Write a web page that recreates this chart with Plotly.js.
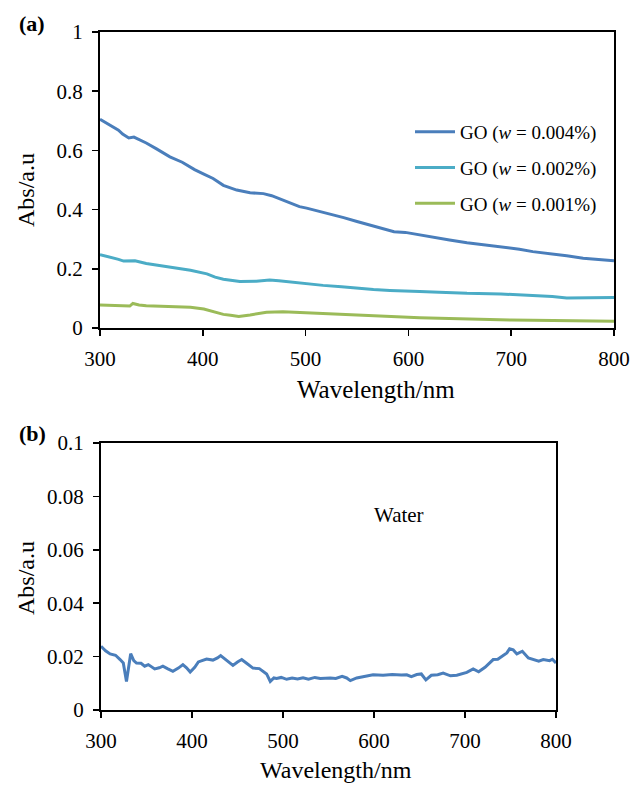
<!DOCTYPE html>
<html>
<head>
<meta charset="utf-8">
<script src="https://cdn.plot.ly/plotly-3.0.1.min.js"></script>
<style>html,body{margin:0;padding:0;background:#fff;}</style>
</head>
<body>
<div id="chart" style="width:641px;height:785px;"></div>
<script>
// ---- Data ----
const wlGO004 = [300,305,310,318,322,328,333,336,345,355,368,380,392,401,410,420,433,446,459,467,476,485,494,501,509,517,527,537,550,563,576,586,597,612,624,640,657,672,689,708,721,737,754,770,786,800];
const absGO004 = [0.705,0.695,0.685,0.668,0.655,0.642,0.645,0.640,0.625,0.605,0.578,0.560,0.535,0.520,0.505,0.482,0.466,0.457,0.454,0.447,0.435,0.421,0.410,0.405,0.398,0.390,0.383,0.373,0.360,0.347,0.333,0.325,0.323,0.314,0.305,0.297,0.288,0.282,0.275,0.266,0.258,0.252,0.244,0.236,0.232,0.227];

const wlGO002 = [300,310,318,323,334,345,355,370,388,404,412,420,436,452,465,474,482,491,505,517,535,550,566,582,600,611,630,657,690,721,740,754,770,785,800];
const absGO002 = [0.248,0.240,0.232,0.226,0.227,0.218,0.213,0.205,0.195,0.183,0.172,0.165,0.157,0.158,0.162,0.160,0.157,0.152,0.148,0.144,0.139,0.134,0.130,0.127,0.126,0.123,0.121,0.117,0.115,0.110,0.106,0.101,0.102,0.101,0.103];

const wlGO001 = [300,315,329,332,338,345,365,388,401,408,414,420,427,435,446,455,462,478,490,501,525,550,575,592,611,630,657,690,700,721,740,760,780,800];
const absGO001 = [0.078,0.077,0.074,0.083,0.078,0.075,0.073,0.070,0.064,0.057,0.050,0.046,0.043,0.039,0.044,0.050,0.053,0.055,0.053,0.052,0.048,0.044,0.040,0.038,0.035,0.033,0.030,0.028,0.027,0.026,0.025,0.024,0.023,0.023];

const wlWater = [300,305,310,316,321,324.5,328,330,332.6,336,339,344,348,352,359,364,368,373,379,385,390,394,398,403,407,411,416,423,428,431.5,438,445,450,454.6,460,467,474,482,486,490,493,498,504,510,516,522,528,535,541,547,552,558,565,570,574,581,590,599,610,620,630,636,641,647,652,657,663,670,676,684,691,702,709,715,722,727,731,736,740,746,749,753,757,763,769.6,775,781,786,790,793,796,800];
const absWater = [0.0239,0.0222,0.0210,0.0205,0.0189,0.0176,0.0107,0.0150,0.0211,0.0185,0.0176,0.0175,0.0164,0.0170,0.0154,0.0158,0.0164,0.0155,0.0145,0.0157,0.0170,0.0158,0.0142,0.0160,0.0180,0.0185,0.0191,0.0187,0.0195,0.0204,0.0185,0.0167,0.0180,0.0189,0.0175,0.0157,0.0155,0.0135,0.0107,0.0120,0.0118,0.0122,0.0115,0.0120,0.0116,0.0121,0.0115,0.0122,0.0118,0.0120,0.0120,0.0118,0.0126,0.0120,0.0110,0.0120,0.0125,0.0132,0.0130,0.0133,0.0131,0.0132,0.0125,0.0133,0.0135,0.0113,0.0130,0.0132,0.0138,0.0128,0.0130,0.0141,0.0154,0.0143,0.0160,0.0176,0.0189,0.0190,0.0199,0.0214,0.0229,0.0225,0.0210,0.0220,0.0195,0.0190,0.0183,0.0189,0.0186,0.0185,0.0190,0.0176];

const seriesNames = ['GO (<i>w</i> = 0.004%)','GO (<i>w</i> = 0.002%)','GO (<i>w</i> = 0.001%)'];
const xTickVals = [300,400,500,600,700,800];
const yTickValsA = [0,0.2,0.4,0.6,0.8,1];
const yTickTextA = ['0','0.2','0.4','0.6','0.8','1'];
const yTickValsB = [0,0.02,0.04,0.06,0.08,0.1];
const yTickTextB = ['0','0.02','0.04','0.06','0.08','0.1'];

// ---- Chart ----
const W = 641, H = 785;
const FONT = '"Liberation Serif", "Times New Roman", Times, serif';
const px = v => v / W;
const py = v => 1 - v / H;

const traces = [
  {x: wlGO004, y: absGO004, name: seriesNames[0], type: 'scatter', mode: 'lines',
   line: {color: '#4a7ebb', width: 3}, xaxis: 'x', yaxis: 'y', legendgroup: 'a'},
  {x: wlGO002, y: absGO002, name: seriesNames[1], type: 'scatter', mode: 'lines',
   line: {color: '#4bacc6', width: 3}, xaxis: 'x', yaxis: 'y', legendgroup: 'b'},
  {x: wlGO001, y: absGO001, name: seriesNames[2], type: 'scatter', mode: 'lines',
   line: {color: '#9bbb59', width: 3}, xaxis: 'x', yaxis: 'y', legendgroup: 'c'},
  {x: wlWater, y: absWater, name: 'Water', type: 'scatter', mode: 'lines',
   line: {color: '#4a7ebb', width: 3}, xaxis: 'x2', yaxis: 'y2', showlegend: false}
];

const axisCommon = {
  showline: true, linecolor: '#000', linewidth: 2, mirror: true,
  ticks: 'outside', ticklen: 6, tickwidth: 1.5, tickcolor: '#000',
  showgrid: false, zeroline: false,
  tickfont: {family: FONT, size: 21, color: '#000'}
};

function ann(text, x, y, size, extra) {
  return Object.assign({
    text: text, x: px(x), y: py(y), xref: 'paper', yref: 'paper', showarrow: false,
    xanchor: 'center', yanchor: 'middle',
    font: {family: FONT, size: size, color: '#000'}
  }, extra || {});
}

const layout = {
  width: W, height: H,
  margin: {l: 0, r: 0, t: 0, b: 0},
  paper_bgcolor: '#fff', plot_bgcolor: '#fff',
  font: {family: FONT, color: '#000'},
  showlegend: true,
  legend: {
    x: px(410), y: py(113), xanchor: 'left', yanchor: 'top',
    font: {family: FONT, size: 19, color: '#000'},
    bgcolor: 'rgba(0,0,0,0)', tracegroupgap: 8, itemwidth: 40
  },
  xaxis: Object.assign({}, axisCommon, {
    domain: [px(100), px(614)], range: [300, 800], tickvals: xTickVals,
    anchor: 'y', ticklabelstandoff: 5
  }),
  yaxis: Object.assign({}, axisCommon, {
    domain: [py(328), py(32)], range: [0, 1], tickvals: yTickValsA, ticktext: yTickTextA,
    anchor: 'x', ticklabelstandoff: 5
  }),
  xaxis2: Object.assign({}, axisCommon, {
    domain: [px(101), px(556)], range: [300, 800], tickvals: xTickVals,
    anchor: 'y2', ticklabelstandoff: 5
  }),
  yaxis2: Object.assign({}, axisCommon, {
    domain: [py(710), py(443)], range: [0, 0.1], tickvals: yTickValsB, ticktext: yTickTextB,
    anchor: 'x2', ticklabelstandoff: 5
  }),
  annotations: [
    ann('<b>(a)</b>', 32, 24, 22),
    ann('<b>(b)</b>', 32, 433, 22),
    ann('Abs/a.u', 26, 190, 24, {textangle: -90}),
    ann('Abs/a.u', 26, 578, 24, {textangle: -90}),
    ann('Wavelength/nm', 376, 389, 25),
    ann('Wavelength/nm', 336, 770, 24),
    ann('Water', 399, 515, 21)
  ]
};

Plotly.newPlot('chart', traces, layout, {displayModeBar: false, staticPlot: true});
</script>
</body>
</html>
